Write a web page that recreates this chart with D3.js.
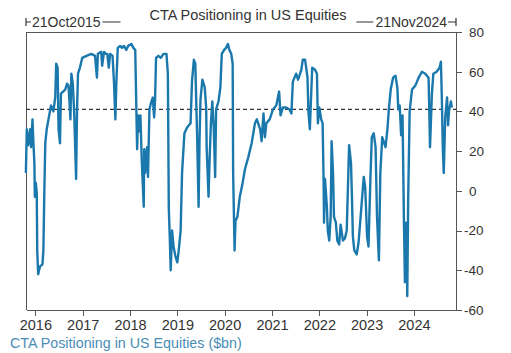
<!DOCTYPE html>
<html lang="en">
<head>
<meta charset="utf-8">
<title>CTA Positioning in US Equities</title>
<script src="https://cdn.jsdelivr.net/npm/d3@7"></script>
<style>
body { margin: 0; background: #fff; }
svg { font-family: "Liberation Sans", Arial, sans-serif; }
.axis path, .axis line { stroke: #555; shape-rendering: crispEdges; }
.axis text { fill: #333; }
</style>
</head>
<body>
<script>
// decimal years
var years = [
  2015.80, 2015.82, 2015.85, 2015.89, 2015.91, 2015.94, 2015.96, 2015.98, 2015.99, 2016.01,
  2016.03, 2016.04, 2016.06, 2016.10, 2016.15, 2016.17, 2016.19, 2016.21, 2016.24, 2016.30,
  2016.33, 2016.38, 2016.42, 2016.44, 2016.47, 2016.49, 2016.52, 2016.54, 2016.63, 2016.67,
  2016.70, 2016.72, 2016.74, 2016.76, 2016.79, 2016.82, 2016.86, 2016.88, 2016.90, 2016.94,
  2016.99, 2017.08, 2017.18, 2017.26, 2017.30, 2017.32, 2017.39, 2017.41, 2017.45, 2017.49,
  2017.52, 2017.55, 2017.58, 2017.63, 2017.66, 2017.69, 2017.71, 2017.74, 2017.79, 2017.83,
  2017.87, 2017.92, 2017.96, 2018.03, 2018.07, 2018.11, 2018.13, 2018.15, 2018.17, 2018.19,
  2018.22, 2018.25, 2018.29, 2018.30, 2018.32, 2018.36, 2018.38, 2018.41, 2018.44, 2018.48,
  2018.51, 2018.53, 2018.55, 2018.60, 2018.65, 2018.71, 2018.77, 2018.80, 2018.82, 2018.84,
  2018.86, 2018.89, 2018.92, 2018.96, 2019.00, 2019.03, 2019.07, 2019.10, 2019.15, 2019.21,
  2019.28, 2019.31, 2019.35, 2019.38, 2019.42, 2019.45, 2019.47, 2019.49, 2019.53, 2019.58,
  2019.61, 2019.62, 2019.66, 2019.68, 2019.71, 2019.74, 2019.77, 2019.80, 2019.82, 2019.87,
  2019.91, 2019.94, 2019.99, 2020.03, 2020.07, 2020.10, 2020.14, 2020.17, 2020.18, 2020.21,
  2020.23, 2020.27, 2020.32, 2020.38, 2020.43, 2020.50, 2020.57, 2020.64, 2020.68, 2020.75,
  2020.78, 2020.82, 2020.85, 2020.88, 2020.95, 2021.02, 2021.09, 2021.15, 2021.18, 2021.23,
  2021.30, 2021.37, 2021.41, 2021.44, 2021.51, 2021.55, 2021.58, 2021.62, 2021.65, 2021.70,
  2021.75, 2021.77, 2021.80, 2021.83, 2021.85, 2021.91, 2021.95, 2021.97, 2022.00, 2022.04,
  2022.07, 2022.09, 2022.10, 2022.12, 2022.16, 2022.18, 2022.21, 2022.24, 2022.26, 2022.29,
  2022.31, 2022.35, 2022.38, 2022.42, 2022.45, 2022.50, 2022.54, 2022.58, 2022.63, 2022.67,
  2022.69, 2022.71, 2022.74, 2022.79, 2022.83, 2022.89, 2022.94, 2022.97, 2023.01, 2023.04,
  2023.08, 2023.11, 2023.15, 2023.19, 2023.22, 2023.26, 2023.29, 2023.33, 2023.40, 2023.44,
  2023.47, 2023.51, 2023.56, 2023.61, 2023.65, 2023.67, 2023.70, 2023.73, 2023.76, 2023.79,
  2023.81, 2023.84, 2023.86, 2023.88, 2023.91, 2023.96, 2024.03, 2024.10, 2024.17, 2024.24,
  2024.31, 2024.34, 2024.38, 2024.41, 2024.48, 2024.54, 2024.57, 2024.59, 2024.61, 2024.63,
  2024.66, 2024.70, 2024.72, 2024.74, 2024.78, 2024.80
];
// CTA positioning, $bn
var positioning = [
  9, 31, 23, 31, 22, 36, 24, 14, -3, 4,
  -1, -30, -42, -38, -37, -30, 0, 24, 31, 39,
  43, 40, 47, 64, 62, 31, 24, 49, 51, 54,
  53, 45, 36, 59, 54, 39, 6, 41, 59, 62,
  67, 68, 69, 68, 57, 69, 70, 63, 70, 69,
  69, 62, 69, 68, 55, 36, 54, 72, 73, 72,
  73, 71, 73, 74, 72, 71, 46, 21, 38, 30,
  38, 14, -8, 21, 9, 22, 7, 41, 44, 47,
  37, 46, 67, 68, 67, 69, 69, 59, -9, -23,
  -40, -20, -28, -33, -36, -30, -20, 9, 29, 32,
  34, 55, 66, 64, 26, -8, 26, 46, 56, 52,
  42, 22, -3, 14, 34, 45, 32, 7, 41, 45,
  52, 69, 71, 72, 74, 71, 69, 64, 9, -30,
  -15, -13, -3, 4, 11, 17, 24, 34, 36, 31,
  25, 39, 27, 34, 36, 41, 43, 50, 38, 42,
  42, 41, 39, 55, 59, 56, 58, 61, 66, 66,
  57, 40, 31, 50, 62, 61, 59, 34, 42, 36,
  34, 6, -16, 6, -8, -20, -25, -13, 25, 9,
  -13, -16, -25, -27, -17, -25, -24, -20, 23, 14,
  -3, -23, -30, -32, -26, -8, 7, 2, -23, -28,
  6, 27, 29, 22, -13, -35, 9, 27, 22, 31,
  41, 51, 57, 58, 52, 41, 43, 28, 38, -16,
  -46, -16, -53, -3, 40, 51, 53, 57, 60, 59,
  57, 22, 49, 59, 60, 62, 65, 46, 22, 9,
  37, 47, 33, 40, 45, 42
];
var yTicks = [80, 60, 40, 20, 0, -20, -40, -60];
var xTickYears = [2016, 2017, 2018, 2019, 2020, 2021, 2022, 2023, 2024];
var startLabel = "21Oct2015", endLabel = "21Nov2024";
var refLevel = 41;
var title = "CTA Positioning in US Equities";
var caption = "CTA Positioning in US Equities ($bn)";

var W = 511, H = 353;
var plot = {left: 26, right: 456, top: 32, bottom: 310};

function toDate(t) {
  var y = Math.floor(t), s = new Date(y, 0, 1), e = new Date(y + 1, 0, 1);
  return new Date(+s + (t - y) * (e - s));
}

var data = years.map(function(t, i) { return {date: toDate(t), value: positioning[i]}; });

var svg = d3.select("body").append("svg")
  .attr("width", W).attr("height", H);

var x = d3.scaleTime()
  .domain([new Date(2015, 9, 21), new Date(2024, 10, 21)])
  .range([plot.left, plot.right]);
var y = d3.scaleLinear()
  .domain([-60, 80])
  .range([plot.bottom, plot.top]);

// frame (top + left)
svg.append("path")
  .attr("d", "M" + plot.left + "," + plot.bottom + "V" + plot.top + "H" + plot.right)
  .attr("fill", "none").attr("stroke", "#555").attr("shape-rendering", "crispEdges");

// x axis
var xAxis = d3.axisBottom(x)
  .tickValues(xTickYears.map(function(d) { return new Date(d, 0, 1); }))
  .tickFormat(d3.timeFormat("%Y"))
  .tickSizeInner(6).tickSizeOuter(0).tickPadding(4);
svg.append("g").attr("class", "axis")
  .attr("transform", "translate(0," + plot.bottom + ")")
  .call(xAxis)
  .selectAll("text").attr("font-size", 14.5);

// y axis on right
var yAxis = d3.axisRight(y)
  .tickValues(yTicks)
  .tickSizeInner(6).tickSizeOuter(0).tickPadding(7);
var gy = svg.append("g").attr("class", "axis")
  .attr("transform", "translate(" + plot.right + ",0)")
  .call(yAxis);
gy.selectAll("text")
  .attr("font-size", 13.5)
  .text(function(d) { return d < 0 ? "-" + Math.abs(d) : d; })
  .attr("x", function(d) { return d < 0 ? 8 : 13; });
gy.select(".domain").attr("d", "M0," + plot.top + "V" + plot.bottom);

// reference dashed line
svg.append("line")
  .attr("x1", plot.left).attr("x2", plot.right)
  .attr("y1", y(refLevel)).attr("y2", y(refLevel))
  .attr("stroke", "#333").attr("stroke-width", 1.2)
  .attr("stroke-dasharray", "4,3");

// series
var line = d3.line()
  .x(function(d) { return x(d.date); })
  .y(function(d) { return y(d.value); });
svg.append("path")
  .datum(data)
  .attr("d", line)
  .attr("fill", "none")
  .attr("stroke", "#1a78ad")
  .attr("stroke-width", 2.4)
  .attr("stroke-linejoin", "round");

// title
svg.append("text")
  .attr("x", 248).attr("y", 20)
  .attr("text-anchor", "middle")
  .attr("font-size", 14.5).attr("fill", "#333")
  .text(title);

// date range markers
var rangeY = 22;
var lt = svg.append("text")
  .attr("x", 32).attr("y", rangeY + 5)
  .attr("font-size", 14).attr("fill", "#333")
  .text(startLabel);
var ltEnd = 32 + lt.node().getComputedTextLength();
svg.append("path")
  .attr("d", "M" + plot.left + "," + (rangeY - 4) + "V" + (rangeY + 4) +
             "M" + plot.left + "," + rangeY + "H" + 31 +
             "M" + (ltEnd + 2) + "," + rangeY + "H" + (ltEnd + 20))
  .attr("stroke", "#333").attr("fill", "none").attr("stroke-width", 1.2);

var rt = svg.append("text")
  .attr("x", plot.right - 9).attr("y", rangeY + 5)
  .attr("text-anchor", "end")
  .attr("font-size", 14).attr("fill", "#333")
  .text(endLabel);
var rtStart = plot.right - 9 - rt.node().getComputedTextLength();
svg.append("path")
  .attr("d", "M" + plot.right + "," + (rangeY - 4) + "V" + (rangeY + 4) +
             "M" + plot.right + "," + rangeY + "H" + (plot.right - 8) +
             "M" + (rtStart - 2) + "," + rangeY + "H" + (rtStart - 19))
  .attr("stroke", "#333").attr("fill", "none").attr("stroke-width", 1.2);

// caption
svg.append("text")
  .attr("x", 10).attr("y", 348)
  .attr("font-size", 14.3).attr("fill", "#4a8db5")
  .text(caption);
</script>
</body>
</html>
